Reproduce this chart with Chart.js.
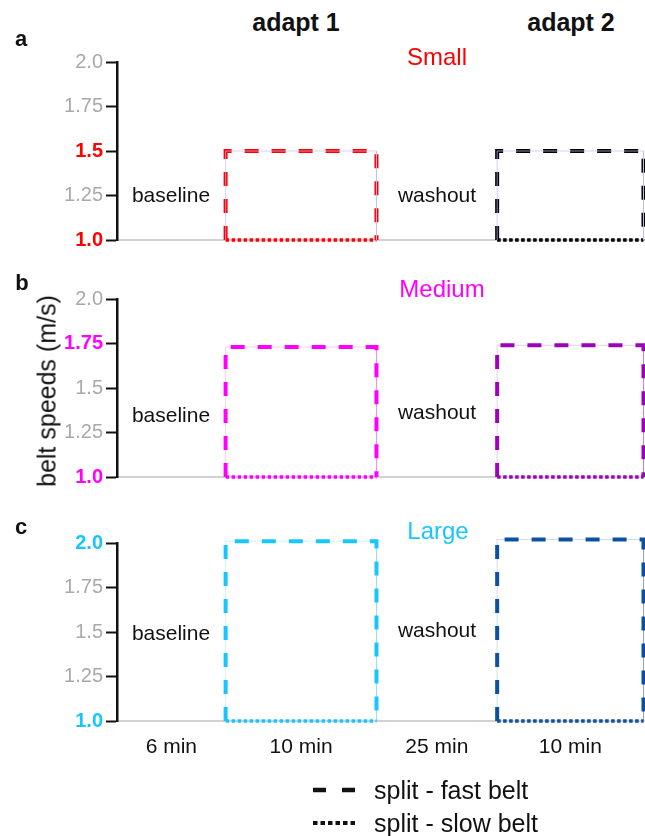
<!DOCTYPE html>
<html>
<head>
<meta charset="utf-8">
<script src="https://cdn.jsdelivr.net/npm/chart.js@4.4.1/dist/chart.umd.min.js"></script>
<style>
  body { margin: 0; background: #fff; }
  #fig { position: relative; width: 645px; height: 836px; overflow: hidden;
         font-family: "Liberation Sans", Arial, sans-serif; color: #111; }
  #fig canvas { position: absolute; left: 0; }
  .lbl { position: absolute; line-height: 1; white-space: nowrap; transform: translate(-50%, -50%); }
  #ytitle { position: absolute; left: 47px; top: 391px; font-size: 25px; line-height: 1;
            white-space: nowrap; transform: translate(-50%, -50%) rotate(-90deg); }
  .leg { position: absolute; left: 374px; font-size: 25px; line-height: 1; white-space: nowrap;
         transform: translateY(-50%); }
</style>
</head>
<body>
<div id="fig">
  <canvas id="chartA" width="645" height="216" style="top:40px"></canvas>
  <canvas id="chartB" width="645" height="215" style="top:277px"></canvas>
  <canvas id="chartC" width="645" height="280" style="top:521px"></canvas>

  <div id="ytitle">belt speeds (m/s)</div>

  <svg style="position:absolute;left:305px;top:770px" width="60" height="66">
    <line x1="8" y1="20" x2="53" y2="20" stroke="#111" stroke-width="4.5" stroke-dasharray="13 16"></line>
    <line x1="8" y1="53" x2="53" y2="53" stroke="#111" stroke-width="4" stroke-dasharray="4.5 3"></line>
  </svg>
  <div class="leg" style="top:790px">split - fast belt</div>
  <div class="leg" style="top:823px">split - slow belt</div>
</div>

<script>
// protocol phases (x is schematic, not to scale)
const phases = ["baseline", "adapt 1", "washout", "adapt 2"];
const phaseEdges = [0, 0.72, 1.72, 2.52, 3.49];
const durations = ["6 min", "10 min", "25 min", "10 min"];
const yTicks = [1.0, 1.25, 1.5, 1.75, 2.0];

// belt speeds (m/s) for the two split blocks [adapt 1, adapt 2]
const slowBelt = [1.0, 1.0];
const fastSmall = [1.5, 1.5];
const fastMedium = [1.73, 1.74];
const fastLarge = [2.01, 2.02];

const FONT = "'Liberation Sans', Arial, sans-serif";

// chart area: 178px tall, starting 22px below the canvas top
const panels = [
  { id: "chartA", letter: "a", name: "Small", fast: fastSmall, hl: 1.5, main: "#ff0000",
    boxColors: ["#ff0000", "#000000"], faint: ["rgba(190,190,255,0.7)", "rgba(190,190,255,0.7)"],
    letterPos: [21, 39], namePos: [437, 57], phaseY: [194, 194], showX: false, padBottom: 16 },
  { id: "chartB", letter: "b", name: "Medium", fast: fastMedium, hl: 1.75, main: "#ff00ff",
    boxColors: ["#ff00ff", "#9a05b8"], faint: ["rgba(255,0,255,0.2)", "rgba(154,5,184,0.2)"],
    letterPos: [22, 283], namePos: [442, 289], phaseY: [414, 411], showX: false, padBottom: 15 },
  { id: "chartC", letter: "c", name: "Large", fast: fastLarge, hl: 2.0, main: "#18c6ff",
    boxColors: ["#18c6ff", "#0d52a0"], faint: ["rgba(24,198,255,0.2)", "rgba(13,82,160,0.2)"],
    letterPos: [21, 527], namePos: [438, 531], phaseY: [632, 629], showX: true, padBottom: 40 }
];

const fig = document.getElementById("fig");

function addLabel(text, x, y, style) {
  const d = document.createElement("div");
  d.className = "lbl";
  d.textContent = text;
  d.style.left = x + "px";
  d.style.top = y + "px";
  Object.assign(d.style, style || {});
  fig.appendChild(d);
}

// column headers
addLabel(phases[1], 296, 22, { fontSize: "25px", fontWeight: "bold" });
addLabel(phases[3], 571, 22, { fontSize: "25px", fontWeight: "bold" });

function tickText(v) {
  return (Math.round(v * 2) === v * 2) ? v.toFixed(1) : v.toFixed(2);
}

panels.forEach(function (p) {
  addLabel(p.letter, p.letterPos[0], p.letterPos[1], { fontSize: "22px", fontWeight: "bold" });
  addLabel(p.name, p.namePos[0], p.namePos[1], { fontSize: "24px", color: p.main });
  addLabel(phases[0], 171, p.phaseY[0], { fontSize: "21px" });
  addLabel(phases[2], 437, p.phaseY[1], { fontSize: "21px" });

  const datasets = [];
  [0, 1].forEach(function (b) {
    const x0 = phaseEdges[1 + 2 * b];
    const x1 = phaseEdges[2 + 2 * b];
    const lo = slowBelt[b];
    const hi = p.fast[b];
    const outline = [{ x: x0, y: lo }, { x: x0, y: hi }, { x: x1, y: hi }, { x: x1, y: lo }];
    datasets.push({ data: outline, borderColor: p.faint[b], borderWidth: 1 });
    datasets.push({ data: outline, borderColor: p.boxColors[b], borderWidth: 4, borderDash: [14, 13] });
    datasets.push({ data: [{ x: x0, y: lo }, { x: x1, y: lo }], borderColor: p.boxColors[b],
                    borderWidth: 3.5, borderDash: [3.5, 2.5] });
  });
  datasets.forEach(function (d) {
    d.pointRadius = 0;
    d.tension = 0;
    d.fill = false;
    d.clip = false;
    d.borderCapStyle = "butt";
    d.borderJoinStyle = "miter";
  });

  const isHl = function (ctx) {
    if (!ctx.tick) return false;
    const v = ctx.tick.value;
    return Math.abs(v - 1.0) < 1e-6 || Math.abs(v - p.hl) < 1e-6;
  };

  new Chart(document.getElementById(p.id), {
    type: "line",
    data: { datasets: datasets },
    options: {
      responsive: false,
      animation: false,
      layout: { autoPadding: false, padding: { top: 22, bottom: p.padBottom, left: 0, right: 0 } },
      plugins: { legend: { display: false }, tooltip: { enabled: false } },
      scales: {
        x: {
          type: "linear",
          min: 0,
          max: 3.5,
          grid: { display: false },
          border: { color: "#d2d2d2", width: 2 },
          afterBuildTicks: function (s) {
            s.ticks = phases.map(function (_, i) {
              return { value: (phaseEdges[i] + phaseEdges[i + 1]) / 2 };
            });
          },
          afterFit: function (s) { s.height = p.showX ? 40 : 0; },
          ticks: {
            display: p.showX,
            autoSkip: false,
            maxRotation: 0,
            padding: 6,
            color: "#111",
            font: { family: FONT, size: 21 },
            callback: function (v, i) { return durations[i]; }
          }
        },
        y: {
          min: 1,
          max: 2,
          afterBuildTicks: function (s) {
            s.ticks = yTicks.map(function (v) { return { value: v }; });
          },
          afterFit: function (s) { s.width = 117; },
          border: { color: "#111", width: 2.5 },
          grid: { drawOnChartArea: false, tickLength: 11, tickColor: "#111", tickWidth: 2 },
          ticks: {
            padding: 3,
            color: function (ctx) { return isHl(ctx) ? p.main : "#a9a9a9"; },
            font: function (ctx) {
              return { family: FONT, size: 20, weight: isHl(ctx) ? "bold" : "normal" };
            },
            callback: function (v) { return tickText(v); }
          }
        }
      }
    }
  });
});
</script>
</body>
</html>
